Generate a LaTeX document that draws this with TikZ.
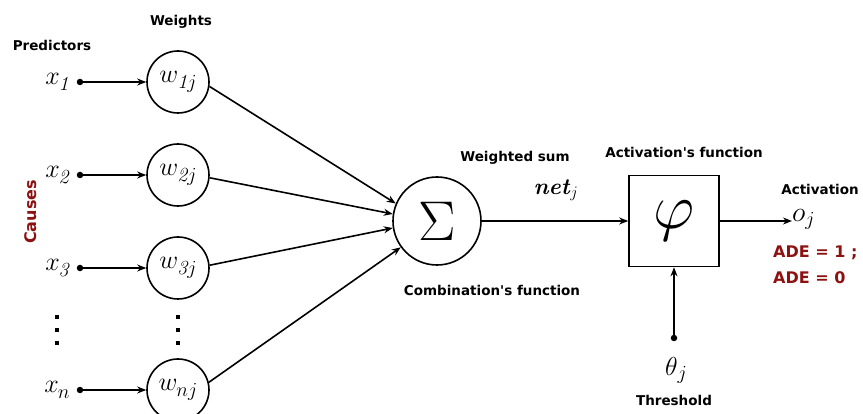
\RequirePackage{fix-cm}
\documentclass[tikz,border=0pt]{standalone}
\usepackage{fontspec}
\setsansfont{DejaVu Sans}
\usetikzlibrary{arrows.meta}
\definecolor{causered}{RGB}{140,18,18}
\newcommand{\lowsub}[2][6pt]{\raisebox{-#1}{\fontsize{20}{22}\selectfont$#2$}}
\begin{document}
\begin{tikzpicture}[x=1pt,y=-1pt,
  lbl/.style={font=\sffamily\bfseries\fontsize{13.5}{16}\selectfont, inner sep=0pt},
  adelbl/.style={font=\sffamily\bfseries\fontsize{16}{19}\selectfont, inner sep=0pt, text=causered, anchor=west},
  wcirc/.style={circle, draw, line width=1.6pt, minimum size=62pt, inner sep=0pt, font=\fontsize{26}{28}\selectfont},
  mathlbl/.style={font=\fontsize{26}{28}\selectfont, inner sep=0pt},
  src/.style={circle, fill, inner sep=0pt, minimum size=6.5pt},
  arr/.style={line width=1.6pt, -{Stealth[length=9pt,width=7pt]}},
  vdot/.style={fill, minimum size=4.5pt, inner sep=0pt},
]
\useasboundingbox (0,0) rectangle (863,414);

% labels
\node[lbl] (pred) at (52,45) {Predictors};
\node[lbl] (wts) at (181,22) {Weights};
\node[font=\sffamily\bfseries\fontsize{16}{19}\selectfont, text=causered, rotate=90, inner sep=0pt] (causes) at (31,212) {Causes};

% inputs and weights
\foreach \n/\y/\s in {1/82/\mathit{1}, 2/175/\mathit{2}, 3/268/\mathit{3}, n/390/n}{
  \node[mathlbl] (x\n) at (57,\y) {$x$\kern-1pt\lowsub{\s}};
  \node[src] (d\n) at (80,\y) {};
  \node[wcirc] (w\n) at (178,\y) {$w$\kern-1pt\lowsub{\s j}};
  \draw[arr] (d\n.center) -- (w\n);
}

% vertical dots
\foreach \yy [count=\k] in {317,330,343}{
  \node[vdot] (va\k) at (57,\yy) {};
  \node[vdot] (vb\k) at (178,\yy) {};
}

% summation
\node[circle, draw, line width=1.6pt, minimum size=88pt, inner sep=0pt, font=\fontsize{56}{58}\selectfont] (sum) at (437,221) {$\Sigma$};
\draw[arr] (w1.-8) -- (sum.157);
\draw[arr] (w2.-5) -- (sum.171);
\draw[arr] (w3.5) -- (sum.189);
\draw[arr] (wn.14) -- (sum.216);

\node[lbl] (wsum) at (515,158) {Weighted sum};
\node[lbl] (comb) at (492,290) {Combination\textquotesingle s function};

% activation
\node[draw, line width=1.6pt, minimum width=90pt, minimum height=91pt, inner sep=0pt, font=\fontsize{64}{66}\selectfont] (phi) at (674,221) {$\varphi$};
\node[lbl] (actf) at (684,152) {Activation\textquotesingle s function};
\draw[arr] (sum) -- (phi);
\node[font=\fontsize{23}{25}\selectfont, inner sep=0pt] (net) at (556,190) {$\textbf{\textit{net}}_j$};

\node[font=\fontsize{28}{30}\selectfont, inner sep=0pt, anchor=west] (oj) at (792,219) {$o$\lowsub[4pt]{j}};
\draw[arr] (phi.east) -- (oj.west |- phi.east);
\node[lbl] (act) at (820,189) {Activation};
\node[adelbl] (ade1) at (773,253) {ADE = 1 ;};
\node[adelbl] (ade0) at (773,278) {ADE = 0};

% threshold
\node[src] (th) at (674,338) {};
\draw[arr] (th.center) -- (phi.south);
\node[mathlbl] (theta) at (676,370) {$\theta$\lowsub[4pt]{j}};
\node[lbl] (thr) at (674,400) {Threshold};
\end{tikzpicture}
\end{document}
